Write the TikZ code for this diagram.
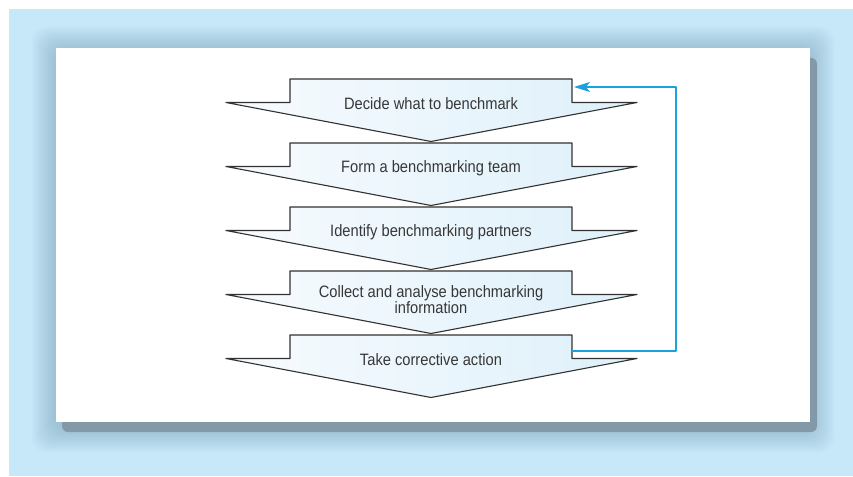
\documentclass[tikz,border=0pt]{standalone}
\usepackage{fontspec}
\setmainfont{Liberation Sans}[FakeStretch=0.89]
\usetikzlibrary{arrows.meta}
\definecolor{bgblue}{RGB}{198,232,248}
\definecolor{shadowgrey}{RGB}{132,153,168}
\definecolor{glowblue}{RGB}{100,140,165}
\definecolor{stepfillA}{RGB}{247,251,254}
\definecolor{stepfillB}{RGB}{222,240,250}
\definecolor{stepline}{RGB}{50,50,50}
\definecolor{textgrey}{RGB}{55,55,55}
\definecolor{loopblue}{RGB}{27,161,221}
\tikzset{
  stepshape/.style={draw=stepline, line width=1.1pt, left color=stepfillA, right color=stepfillB},
  steptext/.style={text=textgrey, align=center, inner sep=0pt, font=\fontsize{16.5}{16}\selectfont},
  loopline/.style={draw=loopblue, line width=1.2pt}
}
\begin{document}
\begin{tikzpicture}[x=1pt,y=-1pt,line cap=round,line join=round]
\useasboundingbox (0,0) rectangle (853,476);
\fill[bgblue] (9,9) rectangle (853,476);
\foreach \s in {0,...,11}
  \fill[glowblue, opacity=0.035, rounded corners=14pt] (32+2*\s,27+2*\s) rectangle (834-2*\s,452-2*\s);
\fill[shadowgrey, rounded corners=6pt] (62,58) rectangle (817,432);
\fill[white] (56,48) rectangle (810,422);
\foreach \i/\dy/\txt in {0/25/Decide what to benchmark, 1/25/Form a benchmarking team, 2/25/Identify benchmarking partners, 3/29/{Collect and analyse benchmarking\\information}, 4/25/Take corrective action}{
  \pgfmathsetmacro\ytop{79+64*\i}
  \draw[stepshape] (290,\ytop) -- (572,\ytop) -- (572,\ytop+23.5) -- (637,\ytop+23.5) -- (431,\ytop+62.5) -- (226,\ytop+23.5) -- (290,\ytop+23.5) -- cycle;
  \node[steptext] (step\i) at (431,\ytop+\dy) {\txt};
}
\coordinate (loop-out) at (572,351);
\coordinate (loop-in) at (574,87);
\draw[loopline, -{Stealth[length=16pt,width=10pt,inset=4pt]}] (loop-out) -- ++(104,0) |- (loop-in);
\end{tikzpicture}
\end{document}
